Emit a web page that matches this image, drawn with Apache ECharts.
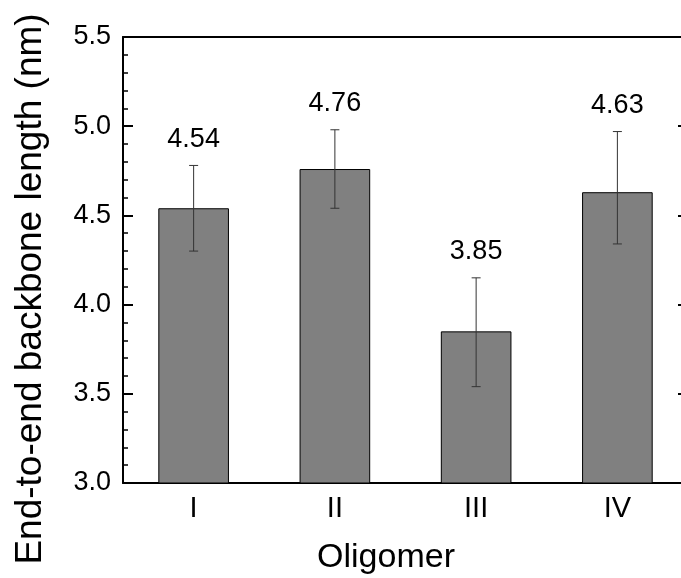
<!DOCTYPE html>
<html>
<head>
<meta charset="utf-8">
<script src="https://cdn.jsdelivr.net/npm/echarts@6/dist/echarts.min.js"></script>
<style>
  html, body { margin: 0; padding: 0; background: #fff; }
  #main { width: 681px; height: 578px; }
</style>
</head>
<body>
<div id="main"></div>
<script>
// oligomers and mean end-to-end length
var categories = ['I', 'II', 'III', 'IV'];
var lengths = [4.54, 4.76, 3.85, 4.63];
// error bar ends
var errLow = [4.30, 4.54, 3.54, 4.34];
var errHigh = [4.78, 4.98, 4.15, 4.97];
var yTicks = ['3.0', '3.5', '4.0', '4.5', '5.0', '5.5'];

var font = "'Liberation Sans', Arial, sans-serif";

var errData = categories.map(function (c, i) {
  return [i, errLow[i], errHigh[i], lengths[i]];
});

var chart = echarts.init(document.getElementById('main'));

var option = {
  animation: false,
  backgroundColor: '#fff',
  grid: {
    left: 123,
    top: 37,
    width: 565,
    bottom: 95,
    outerBoundsMode: 'none',
    containLabel: false
  },
  xAxis: [
    {
      type: 'category',
      position: 'bottom',
      data: categories,
      axisLine: { lineStyle: { color: '#000', width: 2 } },
      axisTick: { inside: true, alignWithLabel: true, interval: 0, length: 9, lineStyle: { color: '#000', width: 2 } },
      axisLabel: { color: '#000', fontSize: 29, fontFamily: font, margin: 11 }
    },
    {
      type: 'category',
      position: 'bottom',
      data: categories,
      axisLine: { show: false },
      axisTick: { inside: true, interval: 0, length: 4, lineStyle: { color: '#000', width: 2 } },
      axisLabel: { show: false }
    },
    {
      type: 'category',
      position: 'top',
      data: categories,
      axisLine: { lineStyle: { color: '#000', width: 2 } },
      axisTick: { inside: true, alignWithLabel: true, interval: 0, length: 9, lineStyle: { color: '#000', width: 2 } },
      axisLabel: { show: false }
    },
    {
      type: 'category',
      position: 'top',
      data: categories,
      axisLine: { show: false },
      axisTick: { inside: true, interval: 0, length: 4, lineStyle: { color: '#000', width: 2 } },
      axisLabel: { show: false }
    }
  ],
  yAxis: [
    {
      type: 'value',
      position: 'left',
      min: 3,
      max: 5.5,
      interval: 0.5,
      axisLine: { show: true, lineStyle: { color: '#000', width: 2 } },
      axisTick: { show: true, inside: true, length: 10, lineStyle: { color: '#000', width: 2 } },
      minorTick: { show: true, splitNumber: 5, length: 5, lineStyle: { color: '#000', width: 1.5 } },
      splitLine: { show: false },
      axisLabel: {
        color: '#000', fontSize: 27, fontFamily: font, margin: 12,
        formatter: function (v) { return yTicks[Math.round((v - 3) / 0.5)]; }
      }
    },
    {
      type: 'value',
      position: 'right',
      min: 3,
      max: 5.5,
      interval: 0.5,
      axisLine: { show: true, lineStyle: { color: '#000', width: 2 } },
      axisTick: { show: true, inside: true, length: 10, lineStyle: { color: '#000', width: 2 } },
      minorTick: { show: true, splitNumber: 5, length: 5, lineStyle: { color: '#000', width: 1.5 } },
      splitLine: { show: false },
      axisLabel: { show: false }
    }
  ],
  graphic: [
    {
      type: 'text',
      x: 31,
      y: 289,
      rotation: Math.PI / 2,
      style: {
        text: 'End-to-end backbone length (nm)',
        font: '37px ' + font,
        fill: '#000',
        textAlign: 'center',
        textVerticalAlign: 'middle'
      }
    },
    {
      type: 'text',
      x: 386,
      y: 558,
      style: {
        text: 'Oligomer',
        font: '34px ' + font,
        fill: '#000',
        textAlign: 'center',
        textVerticalAlign: 'middle'
      }
    }
  ],
  series: [
    {
      type: 'bar',
      xAxisIndex: 0,
      yAxisIndex: 0,
      data: lengths,
      barWidth: '50%',
      itemStyle: { color: '#808080', borderColor: '#000', borderWidth: 1 },
      z: 2
    },
    {
      type: 'custom',
      xAxisIndex: 0,
      yAxisIndex: 0,
      data: errData,
      z: 3,
      renderItem: function (params, api) {
        var x = api.value(0);
        var lo = api.coord([x, api.value(1)]);
        var hi = api.coord([x, api.value(2)]);
        var cap = 4.5;
        var lineStyle = { stroke: '#333', lineWidth: 1 };
        return {
          type: 'group',
          children: [
            { type: 'line', shape: { x1: hi[0], y1: hi[1], x2: lo[0], y2: lo[1] }, style: lineStyle },
            { type: 'line', shape: { x1: hi[0] - cap, y1: hi[1], x2: hi[0] + cap, y2: hi[1] }, style: lineStyle },
            { type: 'line', shape: { x1: lo[0] - cap, y1: lo[1], x2: lo[0] + cap, y2: lo[1] }, style: lineStyle },
            {
              type: 'text',
              x: hi[0],
              y: hi[1] - 26,
              style: {
                text: api.value(3).toFixed(2),
                font: '27px ' + font,
                fill: '#000',
                textAlign: 'center',
                textVerticalAlign: 'middle'
              }
            }
          ]
        };
      }
    }
  ]
};

chart.setOption(option);
</script>
</body>
</html>
